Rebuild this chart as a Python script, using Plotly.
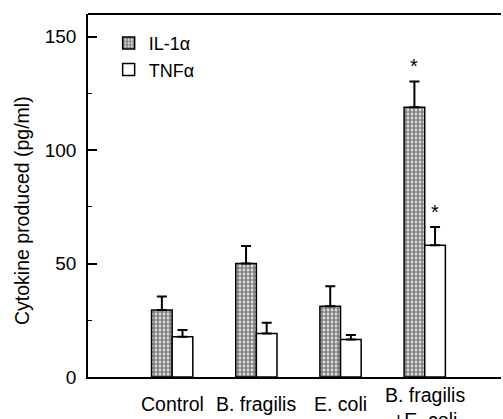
import plotly.graph_objects as go

categories = ["Control", "B. fragilis", "E. coli", "B. fragilis<br>+E. coli"]
il1a_mean = [29.5, 50.0, 31.2, 118.9]
il1a_err = [6.0, 7.7, 8.8, 11.4]
tnfa_mean = [17.7, 19.2, 16.5, 58.1]
tnfa_err = [3.0, 4.7, 2.0, 8.0]
il1a_sig = [False, False, False, True]
tnfa_sig = [False, False, False, True]
y_ticks = [0, 50, 100, 150]

FONT = "Arial, Liberation Sans, sans-serif"
W, H = 503, 419
ML, MR, MT, MB = 88, 2, 14, 42
xpos = list(range(len(categories)))
BARGAP = 0.51
bw = (1 - BARGAP) / 2

fig = go.Figure()
fig.add_trace(go.Bar(
    name="IL-1\u03b1", x=xpos, y=il1a_mean,
    error_y=dict(type="data", array=il1a_err, arrayminus=[0]*4, symmetric=False,
                 color="black", thickness=2, width=5),
    marker=dict(color="white", line=dict(color="black", width=1.5),
                pattern=dict(shape=".", fgcolor="black", bgcolor="white", size=4, solidity=0.7)),
))
fig.add_trace(go.Bar(
    name="TNF\u03b1", x=xpos, y=tnfa_mean,
    error_y=dict(type="data", array=tnfa_err, arrayminus=[0]*4, symmetric=False,
                 color="black", thickness=2, width=5),
    marker=dict(color="white", line=dict(color="black", width=1.5)),
))

# significance asterisks
for i in xpos:
    if il1a_sig[i]:
        fig.add_annotation(x=i - bw/2, y=il1a_mean[i] + il1a_err[i], xref="x", yref="y",
                           text="*", showarrow=False, yshift=15,
                           font=dict(family=FONT, size=20, color="black"))
    if tnfa_sig[i]:
        fig.add_annotation(x=i + bw/2, y=tnfa_mean[i] + tnfa_err[i], xref="x", yref="y",
                           text="*", showarrow=False, yshift=15,
                           font=dict(family=FONT, size=20, color="black"))

# category labels
for i, c in enumerate(categories):
    nlines = c.count("<br>") + 1
    fig.add_annotation(x=i, y=0, xref="x", yref="paper", text=c, showarrow=False,
                       yanchor="middle", yshift=-27 - 3.5 * (nlines - 1),
                       font=dict(family=FONT, size=19.5, color="black"))

# y axis title
fig.add_annotation(x=-66 / (W - ML - MR), y=(H - MB - 211) / (H - MT - MB),
                   xref="paper", yref="paper",
                   text="Cytokine produced (pg/ml)", textangle=-90, showarrow=False,
                   xanchor="center", yanchor="middle",
                   font=dict(family=FONT, size=19.5, color="black"))

# top frame line
fig.add_shape(type="line", xref="paper", yref="paper", x0=0, x1=1, y0=1, y1=1,
              line=dict(color="black", width=2))

fig.update_layout(
    width=W, height=H,
    margin=dict(l=ML, r=MR, t=MT, b=MB, pad=0),
    paper_bgcolor="white", plot_bgcolor="white",
    barmode="group", bargap=BARGAP, bargroupgap=0,
    font=dict(family=FONT, size=19, color="black"),
    showlegend=True,
    legend=dict(x=0.05, y=0.97, xanchor="left", yanchor="top",
                bgcolor="rgba(0,0,0,0)", font=dict(size=18),
                tracegroupgap=0),
    xaxis=dict(range=[-1, 3.906], showticklabels=False, ticks="",
               showline=True, linecolor="black", linewidth=2, mirror=False,
               showgrid=False, zeroline=False, fixedrange=True),
    yaxis=dict(range=[0, 160], tickvals=y_ticks, ticks="inside", ticklen=9,
               tickwidth=1.5, tickcolor="black",
               minor=dict(dtick=25, ticks="inside", ticklen=4, tickcolor="black", tickwidth=1),
               showline=True, linecolor="black", linewidth=1.5,
               showgrid=False, zeroline=False, ticklabelstandoff=6,
               tickfont=dict(size=19), fixedrange=True),
)

fig.write_html("out.html", config={"displayModeBar": False},
               post_script="document.body.style.margin='0';document.body.style.overflow='hidden';")
